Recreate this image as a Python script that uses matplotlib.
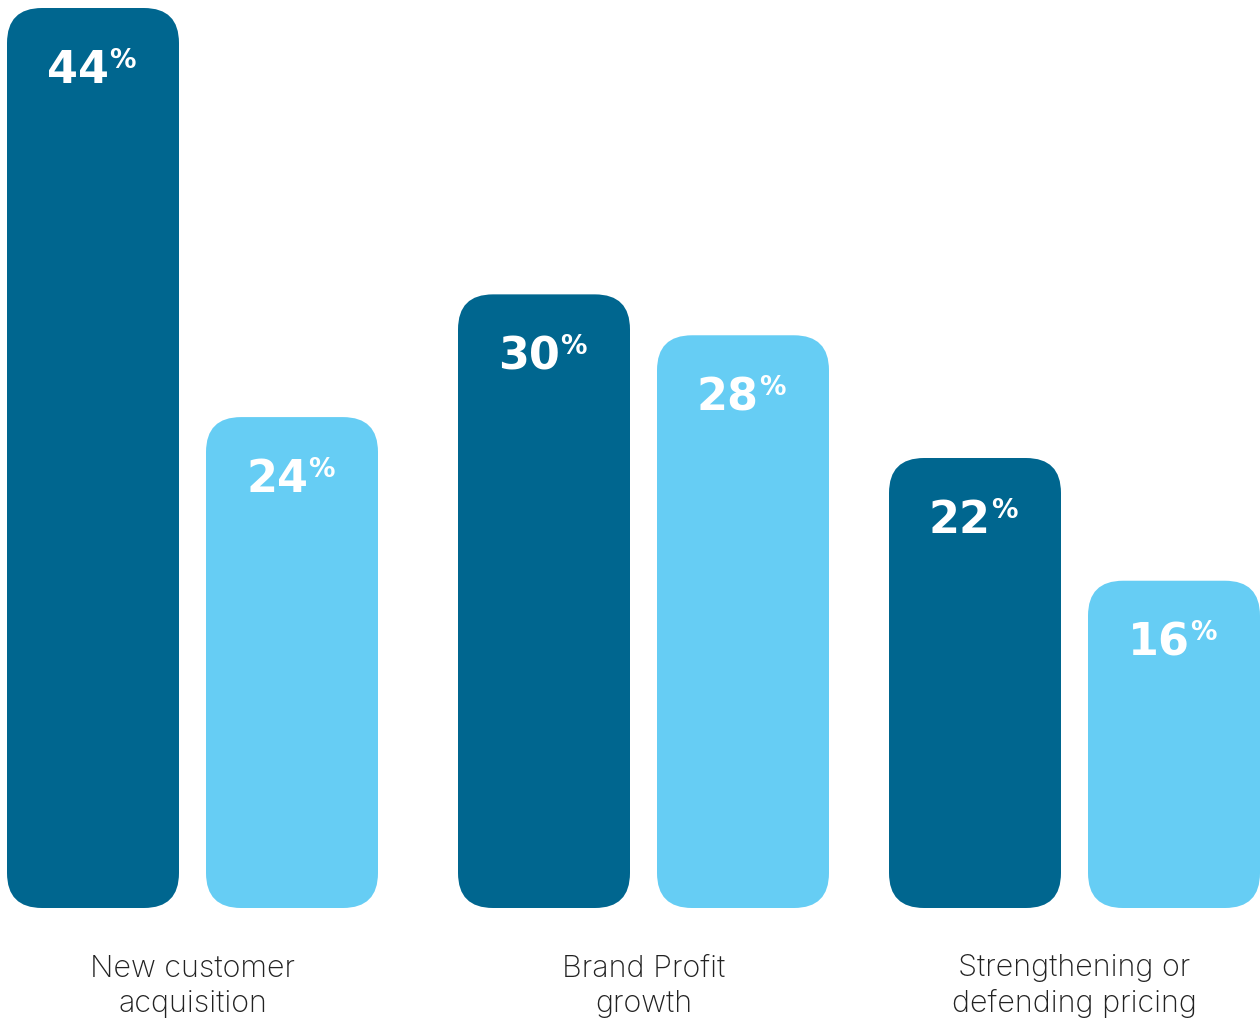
import matplotlib
matplotlib.use('Agg')
import matplotlib.pyplot as plt
from matplotlib.patches import FancyBboxPatch

categories = ['New customer\nacquisition', 'Brand Profit\ngrowth', 'Strengthening or\ndefending pricing']
dark_vals = [44, 30, 22]
light_vals = [24, 28, 16]

dark = '#00668F'
light = '#66CDF4'

# layout in pixels (x axis runs in pixels, y axis in percent)
W, H = 1260, 1018
bar_w = 172
dark_left = [7, 458, 889]
light_left = [206, 657, 1088]
base_px = 908
px_per_pct = 900 / 44
radius = 35

fig = plt.figure(figsize=(W / 100, H / 100), dpi=100)
ax = fig.add_axes([0, 0, 1, 1])
ax.set_xlim(0, W)
ax.set_ylim(-(H - base_px) / px_per_pct, base_px / px_per_pct)
ax.axis('off')


def bar(x0, val, color):
    p = FancyBboxPatch((x0, 0), bar_w, val,
                       boxstyle='round,pad=0,rounding_size=%d' % radius,
                       mutation_aspect=1 / px_per_pct,
                       fc=color, ec='none')
    ax.add_patch(p)
    cx = x0 + bar_w / 2 - 15
    y = val - 75 / px_per_pct
    t = ax.text(cx, y, str(val), color='white', fontsize=32, fontweight='bold',
                ha='center', va='baseline', family='DejaVu Sans')
    ax.annotate('%', xy=(1, 1), xycoords=t, xytext=(0, 1), textcoords='offset points',
                color='white', fontsize=19, fontweight='bold', ha='left', va='top',
                family='DejaVu Sans')


for i in range(3):
    bar(dark_left[i], dark_vals[i], dark)
    bar(light_left[i], light_vals[i], light)
    gx = (dark_left[i] + light_left[i] + bar_w) / 2
    ax.text(gx, -(1012 - base_px) / px_per_pct, categories[i], ha='center', va='baseline',
            fontsize=22, color='#222222', family='Inter', fontweight='light',
            linespacing=1.32)

fig.savefig('out.png', dpi=100)
